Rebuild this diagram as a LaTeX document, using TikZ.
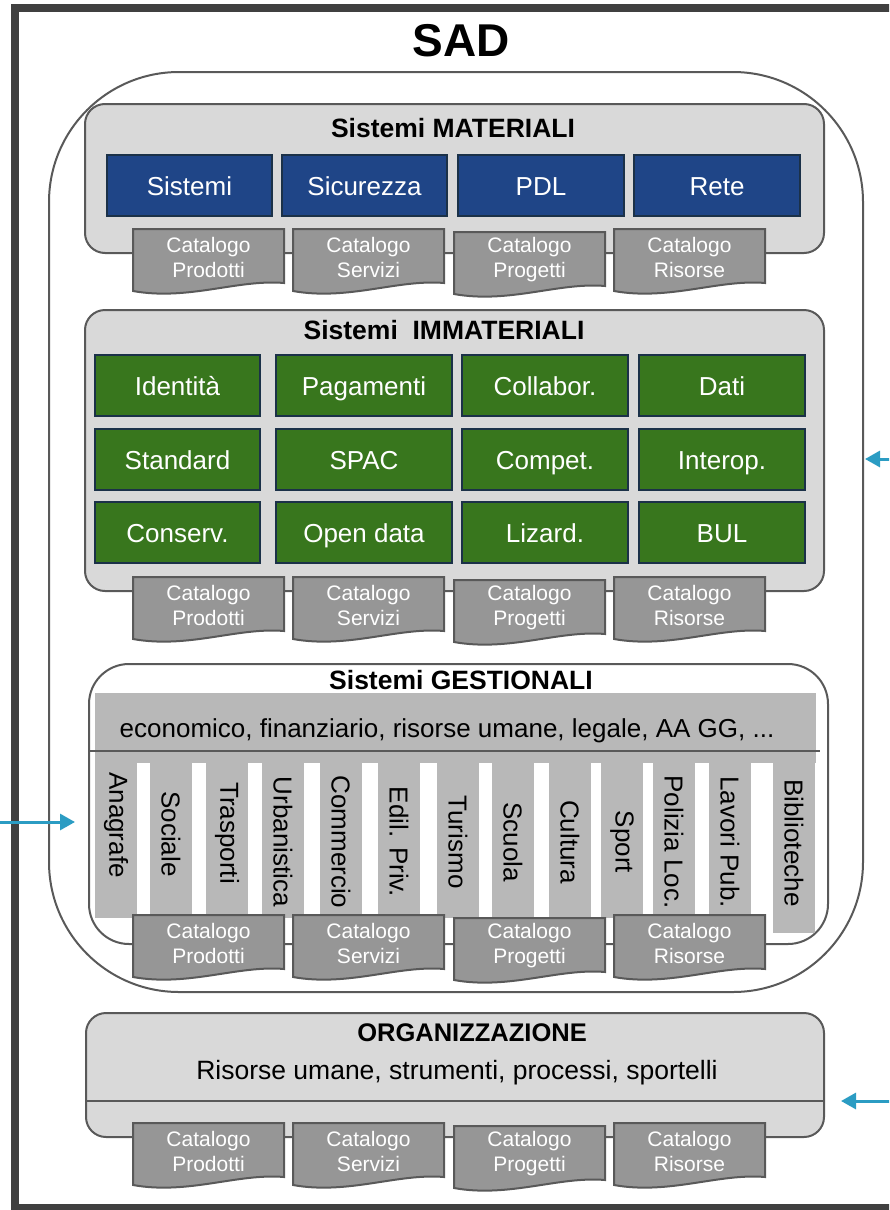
\documentclass[tikz,border=0pt]{standalone}
\usepackage{fontspec}
\setmainfont{Liberation Sans}
\usetikzlibrary{arrows.meta,positioning}
\definecolor{framegray}{HTML}{404040}
\definecolor{edgegray}{HTML}{595959}
\definecolor{panelgray}{HTML}{D9D9D9}
\definecolor{stripgray}{HTML}{B8B8B8}
\definecolor{catgray}{HTML}{969696}
\definecolor{bluefill}{HTML}{1F4587}
\definecolor{greenfill}{HTML}{38761D}
\definecolor{boxedge}{HTML}{1B3148}
\definecolor{flowteal}{HTML}{2B9CC3}
\begin{document}
\begin{tikzpicture}[x=1pt,y=-1pt,
  outline/.style={draw=edgegray,line width=2pt},
  panel/.style={outline,fill=panelgray,rounded corners=20pt,anchor=north west,inner sep=0pt},
  heading/.style={font=\bfseries\fontsize{26.5}{30}\selectfont},
  tile/.style={draw=boxedge,line width=2pt,minimum height=61pt,inner sep=0pt,text height=25pt,text depth=5pt,text=white,font=\fontsize{26}{30}\selectfont},
  catdoc/.style={draw=edgegray,line width=2pt,fill=catgray},
  cattext/.style={text=white,align=center,font=\fontsize{21}{25}\selectfont},
  striptext/.style={rotate=-90,font=\fontsize{26}{30}\selectfont},
  flow/.style={draw=flowteal,line width=3pt,-{Triangle[length=15pt,width=16pt]}}]
\useasboundingbox (0,0) rectangle (889,1210);
\clip (0,0) rectangle (889,1210);
\draw[framegray,line width=8pt] (15,8) rectangle (900,1208);
\node[heading,font=\bfseries\fontsize{46}{50}\selectfont] (sad-title) at (461,41) {SAD};
\node[outline,rounded corners=130pt,anchor=north west,inner sep=0pt,minimum width=814pt,minimum height=920pt] (sad) at (48,71) {};

\node[panel,minimum width=739pt,minimum height=149pt] (mat) at (84,103) {};
\node[heading] (mat-title) at (453,128) {Sistemi MATERIALI};
\foreach \x/\w/\t [count=\i] in {189.5/165/Sistemi, 364.5/165/Sicurezza, 541/166/PDL, 717/166/Rete}
  \node[tile,fill=bluefill,minimum width=\w pt] (mat-\i) at (\x,185.5) {\t};

\node[panel,minimum width=739pt,minimum height=281pt] (imm) at (84,309) {};
\node[heading] (imm-title) at (444,330) {Sistemi\ \ IMMATERIALI};
\foreach \x/\w/\y/\t [count=\i] in {177.5/165/385.5/Identità, 364/176/385.5/Pagamenti, 545/166/385.5/Collabor., 722/166/385.5/Dati,
    177.5/165/459/Standard, 364/176/459/SPAC, 545/166/459/Compet., 722/166/459/Interop.,
    177.5/165/532.5/Conserv., 364/176/532.5/Open data, 545/166/532.5/Lizard., 722/166/532.5/BUL}
  \node[tile,fill=greenfill,minimum width=\w pt] (imm-\i) at (\x,\y) {\t};

\node[panel,fill=white,rounded corners=40pt,minimum width=739pt,minimum height=280pt] (gest) at (88,663) {};
\node[heading] (gest-title) at (461,680) {Sistemi GESTIONALI};
\fill[stripgray] (95,693) rectangle (816,763);
\node[font=\fontsize{26}{30}\selectfont] (gest-text) at (447,731) {economico, finanziario, risorse umane, legale, AA GG, ...};
\coordinate (gest-line) at (0,751);
\draw[outline] (gest.west |- gest-line) -- ++(732,0);
\foreach \xl/\yb/\yc/\t [count=\i] in {95/918/825/Anagrafe, 150/918/834/Sociale, 206/918/833/Trasporti,
    262/918/842/Urbanistica, 320/918/842/Commercio, 378/918/842/Edil. Priv., 437/918/842/Turismo,
    492/918/842/Scuola, 549/918/842/Cultura, 601/918/842/Sport, 653/918/842/Polizia Loc.,
    709/918/842/Lavori Pub., 773/933/843/Biblioteche} {
  \fill[stripgray] (\xl,762) rectangle (\xl+42,\yb);
  \node[striptext] (gest-\i) at (\xl+21,\yc) {\t};
}

\node[panel,minimum width=738pt,minimum height=124pt] (org) at (85,1012) {};
\node[heading,font=\bfseries\fontsize{25.5}{30}\selectfont] (org-title) at (472,1033) {ORGANIZZAZIONE};
\node[font=\fontsize{26.5}{30}\selectfont] (org-text) at (457,1073) {Risorse umane, strumenti, processi, sportelli};
\coordinate (org-line) at (0,1101);
\draw[outline] (org.west |- org-line) -- (org.east |- org-line);

\foreach \r/\y in {mat/229, imm/577, gest/915, org/1123}
  \foreach \x/\b/\d [count=\i] in {133/Prodotti/0, 293/Servizi/0, 454/Progetti/3, 614/Risorse/0} {
    \draw[catdoc] (\x,\y+\d) -- (\x+151,\y+\d) -- (\x+151,\y+\d+54)
      .. controls (\x+105,\y+\d+50) and (\x+55,\y+\d+72) .. (\x,\y+\d+62) -- cycle;
    \node[cattext] (cat-\r-\i) at (\x+75.5,\y+\d+28) {Catalogo\\\b};
  }

\coordinate (in-gest) at (-5,822);
\coordinate (in-sad) at (895,459);
\coordinate (in-org) at (895,1101);
\draw[flow,shorten >=13pt] (in-gest) -- (gest.west |- in-gest);
\draw[flow,shorten >=1pt] (in-sad) -- (sad.east |- in-sad);
\draw[flow,shorten >=16pt] (in-org) -- (org.east |- in-org);
\end{tikzpicture}
\end{document}
